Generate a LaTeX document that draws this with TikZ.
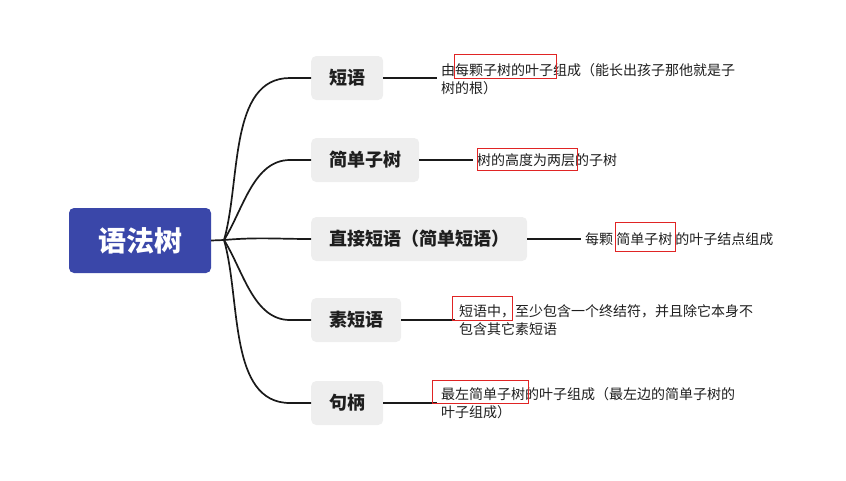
\documentclass[tikz,border=0pt]{standalone}
\usepackage{fontspec}
\setmainfont{Noto Sans CJK SC}
\usetikzlibrary{calc}
\definecolor{rootblue}{HTML}{3A47A9}
\definecolor{branchgray}{HTML}{EEEEEE}
\definecolor{linecol}{HTML}{1A1A1A}
\definecolor{txtcol}{HTML}{1E1E1E}
\definecolor{markred}{HTML}{E02424}
\tikzset{
  rootbox/.style={fill=rootblue, rounded corners=5pt, minimum width=142pt, minimum height=65pt,
    text=white, font=\fontsize{28}{30}\selectfont\bfseries, inner sep=0pt},
  branchbox/.style={fill=branchgray, rounded corners=5pt, minimum height=44pt, inner xsep=18pt,
    inner ysep=0pt, text=txtcol, font=\fontsize{18}{20}\selectfont\bfseries, anchor=west},
  leaftext/.style={anchor=west, align=left, inner xsep=4pt, inner ysep=0pt, text=txtcol,
    font=\fontsize{14}{18}\selectfont},
  conn/.style={draw=linecol, line width=1.7pt},
  redbox/.style={draw=markred, line width=0.8pt, inner sep=0pt},
}
\begin{document}
\begin{tikzpicture}[x=1pt,y=1pt]
\useasboundingbox (0,0) rectangle (846,-480);
% root
\node[rootbox] (root) at (140,-240.5) {语法树};
\coordinate (hub) at (224,-240);
% branches
\node[branchbox] (b1) at (311,-78) {短语};
\node[branchbox] (b2) at (311,-160) {简单子树};
\node[branchbox] (b3) at (311,-239) {直接短语（简单短语）};
\node[branchbox] (b4) at (311,-320) {素短语};
\node[branchbox] (b5) at (311,-403) {句柄};
% root connectors
\draw[conn] (root.east) -- (hub);
\draw[conn] (hub) to[out=74,in=180,looseness=0.9] ([xshift=-21pt]b1.west) -- (b1.west);
\draw[conn] (hub) to[out=58,in=180,looseness=0.9] ([xshift=-21pt]b2.west) -- (b2.west);
\draw[conn] (hub) to[out=5,in=180] (b3.west);
\draw[conn] (hub) to[out=-58,in=180,looseness=0.9] ([xshift=-21pt]b4.west) -- (b4.west);
\draw[conn] (hub) to[out=-74,in=180,looseness=0.9] ([xshift=-21pt]b5.west) -- (b5.west);
% leaf texts
\node[leaftext] (t1) at (437,-79) {由每颗子树的叶子组成（能长出孩子那他就是子\\树的根）};
\node[leaftext] (t2) at (473,-160) {树的高度为两层的子树};
\node[leaftext] (t3) at (581,-239) {每颗 简单子树 的叶子结点组成};
\node[leaftext] (t4) at (455,-320) {短语中，至少包含一个终结符，并且除它本身不\\包含其它素短语};
\node[leaftext] (t5) at (437,-403) {最左简单子树的叶子组成（最左边的简单子树的\\叶子组成）};
% leaf connectors
\draw[conn] (b1.east) -- (b1.east -| t1.west);
\draw[conn] (b2.east) -- (b2.east -| t2.west);
\draw[conn] (b3.east) -- (b3.east -| t3.west);
\draw[conn] (b4.east) -- (b4.east -| t4.west);
\draw[conn] (b5.east) -- (b5.east -| t5.west);
% red markers
\node[redbox, minimum width=102pt, minimum height=24pt] (r1) at (505,-66) {};
\node[redbox, minimum width=100pt, minimum height=22pt] (r2) at (527,-159) {};
\node[redbox, minimum width=60pt, minimum height=29pt] (r3) at (645,-236.5) {};
\node[redbox, minimum width=60pt, minimum height=24pt] (r4) at (482,-308) {};
\node[redbox, minimum width=96pt, minimum height=23pt] (r5) at (480,-391.5) {};
\end{tikzpicture}
\end{document}
